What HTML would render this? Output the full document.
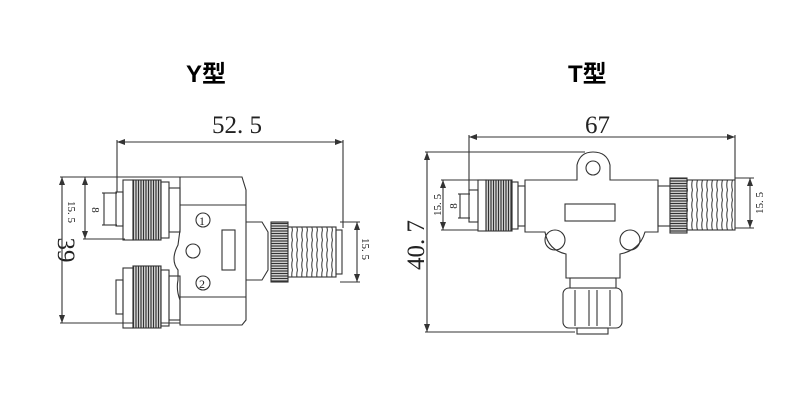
<!DOCTYPE html>
<html><head><meta charset="utf-8"><style>
html,body{margin:0;padding:0;background:#fff;width:800px;height:400px;overflow:hidden}
</style></head><body>
<svg width="800" height="400" viewBox="0 0 800 400" xmlns="http://www.w3.org/2000/svg">
<defs>
<pattern id="kv" width="2.5" height="10" patternUnits="userSpaceOnUse"><rect width="2.5" height="10" fill="#ddd"/><line x1="1" y1="0" x2="1" y2="10" stroke="#333" stroke-width="1.2"/></pattern>
<pattern id="kh" width="10" height="2.5" patternUnits="userSpaceOnUse"><rect width="10" height="2.5" fill="#ddd"/><line x1="0" y1="1" x2="10" y2="1" stroke="#333" stroke-width="1.2"/></pattern>
<pattern id="th" width="5" height="10" patternUnits="userSpaceOnUse"><rect width="5" height="10" fill="#fff"/><path d="M2.5 0 Q1 5 2.5 10" stroke="#444" fill="none" stroke-width="1.1"/></pattern>
<marker id="a" markerWidth="8" markerHeight="6" refX="8" refY="3" orient="auto-start-reverse" markerUnits="userSpaceOnUse"><path d="M0 0 L8 3 L0 6z" fill="#333"/></marker>
</defs>
<g font-family="Liberation Sans, 'Noto Sans CJK SC', sans-serif" font-size="24" font-weight="bold" fill="#000">
<text x="186" y="82">Y型</text>
<text x="568" y="82">T型</text>
</g>
<g font-family="Liberation Serif, 'Noto Serif CJK SC', serif" fill="#222">
<text x="212" y="133" font-size="25">52. 5</text>
<text x="585" y="133" font-size="25">67</text>
<text transform="translate(58,250) rotate(90)" font-size="25" text-anchor="middle">39</text>
<text transform="translate(424,245) rotate(-90)" font-size="25" text-anchor="middle">40. 7</text>
<text transform="translate(68,212) rotate(90)" font-size="11" text-anchor="middle">15. 5</text>
<text transform="translate(92,210) rotate(90)" font-size="11" text-anchor="middle">8</text>
<text transform="translate(362,249) rotate(90)" font-size="11" text-anchor="middle">15. 5</text>
<text transform="translate(441,205) rotate(-90)" font-size="11" text-anchor="middle">15. 5</text>
<text transform="translate(457,206) rotate(-90)" font-size="11" text-anchor="middle">8</text>
<text transform="translate(763,203) rotate(-90)" font-size="11" text-anchor="middle">15. 5</text>
</g>
<g stroke="#333" stroke-width="1.1" fill="none">
<line x1="117" y1="142" x2="343" y2="142" marker-start="url(#a)" marker-end="url(#a)"/>
<line x1="117" y1="140" x2="117" y2="192"/>
<line x1="343" y1="140" x2="343" y2="228"/>
<line x1="62" y1="177" x2="62" y2="323" marker-start="url(#a)" marker-end="url(#a)"/>
<line x1="60" y1="177" x2="180" y2="177"/>
<line x1="60" y1="323" x2="180" y2="323"/>
<line x1="85" y1="177" x2="85" y2="239" marker-start="url(#a)" marker-end="url(#a)"/>
<line x1="83" y1="239" x2="125" y2="239"/>
<line x1="104" y1="193" x2="104" y2="225"/>
<line x1="102" y1="193" x2="117" y2="193"/><line x1="102" y1="225" x2="117" y2="225"/>
<line x1="357" y1="222" x2="357" y2="282" marker-start="url(#a)" marker-end="url(#a)"/>
<line x1="340" y1="222" x2="360" y2="222"/><line x1="340" y1="282" x2="360" y2="282"/>
<path d="M180 177 L242 177 L246 190 L246 320 L242 325 L180 325 L180 300 Q176 290 178 280 L178 270 Q170 260 178 245 L180 230 Z" fill="#fff"/>
<line x1="180" y1="205" x2="246" y2="205"/><line x1="180" y1="297" x2="246" y2="297"/>
<circle cx="193" cy="251" r="7"/>
<circle cx="203" cy="220" r="7"/><circle cx="203" cy="283" r="7"/>
<text x="199" y="225" font-family="Liberation Serif,serif" font-size="12" fill="#222" stroke="none">1</text>
<text x="199" y="288" font-family="Liberation Serif,serif" font-size="12" fill="#222" stroke="none">2</text>
<rect x="222" y="230" width="13" height="40"/>
<path d="M246 222 L262 222 L268 232 L268 270 L262 280 L246 280"/>
<rect x="116" y="192" width="7" height="34"/>
<rect x="123" y="180" width="10" height="60"/>
<rect x="133" y="180" width="28" height="60" fill="url(#kv)"/>
<rect x="161" y="182" width="8" height="56"/>
<rect x="169" y="188" width="11" height="44"/>
<rect x="116" y="280" width="7" height="34"/>
<rect x="123" y="268" width="10" height="60"/>
<rect x="133" y="266" width="28" height="62" fill="url(#kv)"/>
<rect x="161" y="270" width="8" height="56"/>
<rect x="169" y="276" width="11" height="44"/>
<rect x="271" y="222" width="17" height="60" fill="url(#kh)"/>
<rect x="288" y="227" width="48" height="50" fill="url(#th)"/>
<rect x="336" y="230" width="6" height="44"/>
<line x1="469" y1="137" x2="735" y2="137" marker-start="url(#a)" marker-end="url(#a)"/>
<line x1="469" y1="135" x2="469" y2="190"/>
<line x1="735" y1="135" x2="735" y2="180"/>
<line x1="427" y1="152" x2="427" y2="332" marker-start="url(#a)" marker-end="url(#a)"/>
<line x1="425" y1="152" x2="585" y2="152"/>
<line x1="425" y1="332" x2="575" y2="332"/>
<line x1="443" y1="180" x2="443" y2="230" marker-start="url(#a)" marker-end="url(#a)"/>
<line x1="441" y1="180" x2="478" y2="180"/><line x1="441" y1="230" x2="478" y2="230"/>
<line x1="460" y1="194" x2="460" y2="218"/>
<line x1="458" y1="194" x2="470" y2="194"/><line x1="458" y1="218" x2="470" y2="218"/>
<line x1="750" y1="178" x2="750" y2="228" marker-start="url(#a)" marker-end="url(#a)"/>
<line x1="735" y1="178" x2="754" y2="178"/><line x1="735" y1="228" x2="754" y2="228"/>
<path d="M525 180 L577 180 L577 165 Q580 152 593 152 Q607 152 610 165 L610 180 L658 180 L658 232 L645 232 Q640 250 620 254 L620 278 L566 278 L566 254 Q548 250 545 232 L525 232 Z" fill="#fff"/>
<circle cx="593" cy="168" r="7"/>
<rect x="565" y="204" width="50" height="17"/>
<circle cx="555" cy="240" r="10"/><circle cx="630" cy="240" r="10"/>
<rect x="469" y="190" width="9" height="32"/>
<rect x="478" y="180" width="8" height="51"/>
<rect x="486" y="180" width="26" height="51" fill="url(#kv)"/>
<rect x="512" y="182" width="6" height="47"/>
<rect x="518" y="186" width="7" height="40"/>
<rect x="658" y="186" width="12" height="40"/>
<rect x="670" y="178" width="17" height="55" fill="url(#kh)"/>
<rect x="687" y="180" width="48" height="50" fill="url(#th)"/>
<rect x="570" y="278" width="46" height="10"/>
<rect x="563" y="288" width="59" height="40" rx="6"/>
<line x1="575" y1="290" x2="575" y2="326"/><line x1="589" y1="290" x2="589" y2="326"/>
<line x1="597" y1="290" x2="597" y2="326"/><line x1="610" y1="290" x2="610" y2="326"/>
<rect x="577" y="328" width="31" height="6"/>
</g>
</svg>
</body></html>
